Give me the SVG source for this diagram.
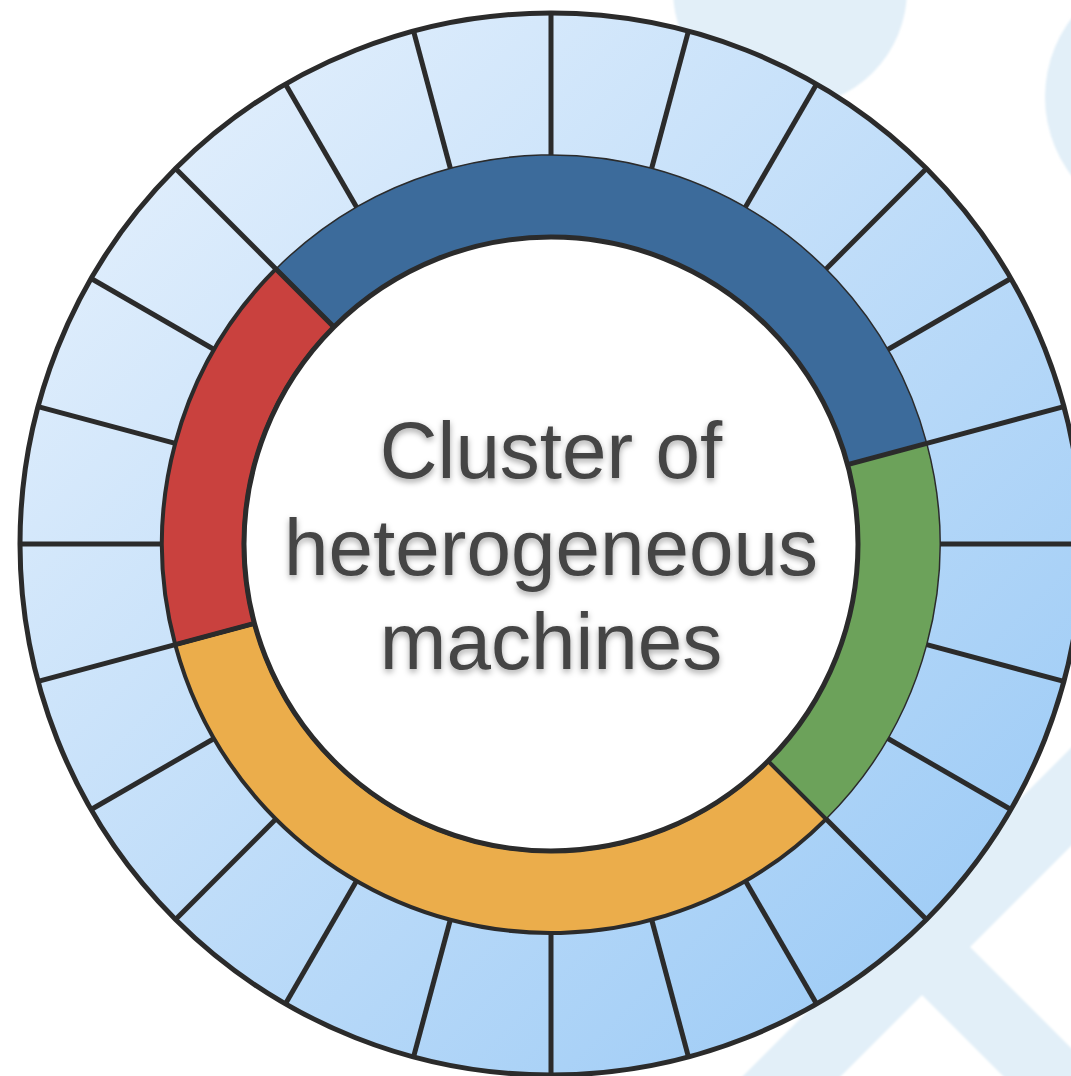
<svg xmlns="http://www.w3.org/2000/svg" width="1071" height="1076" viewBox="0 0 1071 1076">
  <defs>
    <linearGradient id="ringGrad" x1="0" y1="0" x2="1" y2="1">
      <stop offset="0" stop-color="#eaf3fd"/>
      <stop offset="1" stop-color="#95c7f5"/>
    </linearGradient>
    <filter id="textShadow" x="-10%" y="-30%" width="120%" height="160%">
      <feDropShadow dx="0" dy="3" stdDeviation="3" flood-color="#000" flood-opacity="0.35"/>
    </filter>
    <filter id="soft" x="-5%" y="-5%" width="110%" height="110%">
      <feGaussianBlur stdDeviation="1.2"/>
    </filter>
  </defs>
  <style>
    .wm { fill: #e2eff8; }
    .line { stroke: #2b2b2b; stroke-width: 5; fill: none; }
    .seg { stroke: #2b2b2b; }
    .label { font-family: "Liberation Sans", Arial, sans-serif; font-size: 80px; fill: #454545; text-anchor: middle; }
  </style>
  <rect width="1071" height="1076" fill="#ffffff"/>

  <g id="watermark" filter="url(#soft)">
    <circle class="wm" cx="790" cy="-10" r="117"/>
    <circle class="wm" cx="1175" cy="97" r="130"/>
    <polygon class="wm" points="1319,500 1417,500 817,1100 719,1100"/>
    <polygon class="wm" points="700,677 1200,1177 1200,1273 700,773"/>
  </g>

  <g id="outer-ring">
    <circle cx="551" cy="544" r="531" fill="url(#ringGrad)" stroke="#2b2b2b" stroke-width="5"/>
  </g>

  <g id="segments">
    <path id="seg-blue" class="seg" fill="#3c6b9b" stroke-width="1.5" d="M275.94,268.94 A389,389 0 0 1 926.75,443.32 L847.54,464.54 A307,307 0 0 0 333.92,326.92 Z"/>
    <path id="seg-green" class="seg" fill="#6ca25a" stroke-width="1.5" d="M926.75,443.32 A389,389 0 0 1 826.06,819.06 L768.08,761.08 A307,307 0 0 0 847.54,464.54 Z"/>
    <path id="seg-orange" class="seg" fill="#ebad4b" stroke-width="4" d="M826.06,819.06 A389,389 0 0 1 175.25,644.68 L254.46,623.46 A307,307 0 0 0 768.08,761.08 Z"/>
    <path id="seg-red" class="seg" fill="#c9413e" stroke-width="4" d="M175.25,644.68 A389,389 0 0 1 275.94,268.94 L333.92,326.92 A307,307 0 0 0 254.46,623.46 Z"/>
  </g>

  <g id="center">
    <circle cx="551" cy="544" r="307" fill="#ffffff" stroke="#2b2b2b" stroke-width="5"/>
  </g>

  <g id="spokes" class="line">
    <line x1="551" y1="155" x2="551" y2="13"/>
    <line x1="651.68" y1="168.25" x2="688.43" y2="31.09"/>
    <line x1="745.5" y1="207.12" x2="816.5" y2="84.14"/>
    <line x1="826.06" y1="268.94" x2="926.47" y2="168.53"/>
    <line x1="887.88" y1="349.5" x2="1010.86" y2="278.5"/>
    <line x1="926.75" y1="443.32" x2="1063.91" y2="406.57"/>
    <line x1="940" y1="544" x2="1082" y2="544"/>
    <line x1="926.75" y1="644.68" x2="1063.91" y2="681.43"/>
    <line x1="887.88" y1="738.5" x2="1010.86" y2="809.5"/>
    <line x1="826.06" y1="819.06" x2="926.47" y2="919.47"/>
    <line x1="745.5" y1="880.88" x2="816.5" y2="1003.86"/>
    <line x1="651.68" y1="919.75" x2="688.43" y2="1056.91"/>
    <line x1="551" y1="933" x2="551" y2="1075"/>
    <line x1="450.32" y1="919.75" x2="413.57" y2="1056.91"/>
    <line x1="356.5" y1="880.88" x2="285.5" y2="1003.86"/>
    <line x1="275.94" y1="819.06" x2="175.53" y2="919.47"/>
    <line x1="214.12" y1="738.5" x2="91.14" y2="809.5"/>
    <line x1="175.25" y1="644.68" x2="38.09" y2="681.43"/>
    <line x1="162" y1="544" x2="20" y2="544"/>
    <line x1="175.25" y1="443.32" x2="38.09" y2="406.57"/>
    <line x1="214.12" y1="349.5" x2="91.14" y2="278.5"/>
    <line x1="275.94" y1="268.94" x2="175.53" y2="168.53"/>
    <line x1="356.5" y1="207.12" x2="285.5" y2="84.14"/>
    <line x1="450.32" y1="168.25" x2="413.57" y2="31.09"/>
  </g>

  <g id="segment-borders" class="line">
    <line x1="333.92" y1="326.92" x2="275.94" y2="268.94"/>
    <line x1="847.54" y1="464.54" x2="926.75" y2="443.32"/>
    <line x1="254.46" y1="623.46" x2="175.25" y2="644.68"/>
    <line x1="768.08" y1="761.08" x2="826.06" y2="819.06" style="stroke-width:1.5"/>
  </g>

  <g id="label" filter="url(#textShadow)">
    <text class="label" x="551" y="478">Cluster of</text>
    <text class="label" x="551" y="575">heterogeneous</text>
    <text class="label" x="551" y="669">machines</text>
  </g>
</svg>
